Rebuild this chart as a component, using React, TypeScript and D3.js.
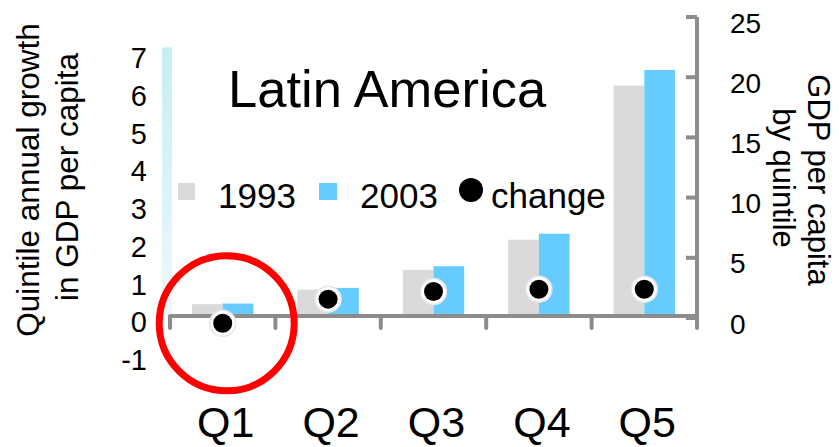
import React from 'react';
import * as d3 from 'd3';

const quintiles = ['Q1', 'Q2', 'Q3', 'Q4', 'Q5'];
const years = ['1993', '2003'];
// GDP per capita by quintile (right axis)
const gdp1993 = [1.15, 2.35, 4.0, 6.5, 19.3];
const gdp2003 = [1.2, 2.5, 4.3, 7.0, 20.6];
// annual growth of the quintile (left axis)
const change = [-0.16, 0.48, 0.68, 0.74, 0.74];
const leftTicks = [-1, 0, 1, 2, 3, 4, 5, 6, 7];
const rightTicks = [0, 5, 10, 15, 20, 25];

const W = 839;
const H = 447;
const FONT = '"Liberation Sans", Arial, sans-serif';
const AXIS = '#8c8c8c';
const GRAY = '#dadada';
const BLUE = '#66ccff';

export default function App() {
  const x = d3.scaleBand().domain(quintiles).range([170, 697]);
  const bw = x.bandwidth();
  const xSub = d3.scaleBand().domain(years).range([22, bw - 22]);
  const yR = d3.scaleLinear().domain([0, 25]).range([318, 17]);
  const yL = d3.scaleLinear().domain([-1, 7]).range([355, 53]);
  const axisY = 316;

  const series = [gdp1993, gdp2003];
  const colors = [GRAY, BLUE];

  return (
    <svg width={W} height={H} style={{ position: 'absolute', left: 0, top: 0 }} fontFamily={FONT}>
      <defs>
        <linearGradient id="strip" x1="0" y1="0" x2="0" y2="1">
          <stop offset="0%" stopColor="#c6eef2" />
          <stop offset="100%" stopColor="#eef9fb" />
        </linearGradient>
      </defs>
      <rect x={0} y={0} width={W} height={H} fill="#fff" />

      {/* faint highlight strip next to the left axis */}
      <rect x={162} y={yL(7.15)} width={10} height={yL(0) - yL(7.15)} fill="url(#strip)" />

      {/* bars */}
      {quintiles.map((q, i) => (
        <g key={q} transform={`translate(${x(q)},0)`}>
          {years.map((yr, k) => (
            <rect
              key={yr}
              x={xSub(yr)}
              y={yR(series[k][i])}
              width={xSub.bandwidth()}
              height={yR(0) - yR(series[k][i])}
              fill={colors[k]}
            />
          ))}
        </g>
      ))}

      {/* x axis */}
      <line x1={x('Q1')} x2={697} y1={axisY} y2={axisY} stroke={AXIS} strokeWidth={4} />
      {[...quintiles.map(q => x(q) as number), 697].map((t, i) => (
        <line key={i} x1={t} x2={t} y1={axisY} y2={axisY + 12} stroke={AXIS} strokeWidth={4} strokeLinecap="round" />
      ))}

      {/* right axis */}
      <line x1={697} x2={697} y1={yR(25)} y2={yR(0) + 2} stroke={AXIS} strokeWidth={4} />
      {rightTicks.map(t => (
        <g key={t}>
          <line x1={686} x2={697} y1={yR(t)} y2={yR(t)} stroke={AXIS} strokeWidth={4} />
          <text x={730} y={yR(t) + 6} fontSize={28} dominantBaseline="central" fill="#000">{t}</text>
        </g>
      ))}

      {/* left tick labels */}
      {leftTicks.map(t => (
        <text key={t} x={147} y={yL(t) + 5} fontSize={29} textAnchor="end" dominantBaseline="central" fill="#000">{t}</text>
      ))}

      {/* change dots */}
      {quintiles.map((q, i) => (
        <g key={q}>
          <circle cx={(x(q) as number) + bw / 2} cy={yL(change[i])} r={13} fill="#fff" stroke="#e6e6e6" strokeWidth={1.5} />
          <circle cx={(x(q) as number) + bw / 2} cy={yL(change[i])} r={9.5} fill="#000" />
        </g>
      ))}

      {/* red highlight circle around Q1 */}
      <circle cx={(x('Q1') as number) + bw / 2 + 4} cy={yL(change[0])} r={67.5} fill="none" stroke="#ff0000" strokeWidth={7} />

      {/* x labels */}
      {quintiles.map(q => (
        <text key={q} x={(x(q) as number) + bw / 2 + 3} y={437} fontSize={43} textAnchor="middle" fill="#000">{q}</text>
      ))}

      {/* title */}
      <text x={228} y={107} fontSize={52.5} fill="#000">Latin America</text>

      {/* legend */}
      <rect x={178} y={183} width={17} height={17} fill={GRAY} />
      <text x={218} y={208} fontSize={35} fill="#000">1993</text>
      <rect x={319} y={183} width={18} height={17} fill={BLUE} />
      <text x={360} y={208} fontSize={35} fill="#000">2003</text>
      <circle cx={471} cy={190} r={12} fill="#000" />
      <text x={491} y={208} fontSize={35} fill="#000">change</text>

      {/* left axis title */}
      <text transform="translate(39,180) rotate(-90)" fontSize={31.5} textAnchor="middle" fill="#000">Quintile annual growth</text>
      <text transform="translate(78,177) rotate(-90)" fontSize={31.5} textAnchor="middle" fill="#000">in GDP per capita</text>

      {/* right axis title */}
      <text transform="translate(808,180) rotate(90)" fontSize={31} textAnchor="middle" fill="#000">GDP per capita</text>
      <text transform="translate(773,178) rotate(90)" fontSize={31} textAnchor="middle" fill="#000">by quintile</text>
    </svg>
  );
}
